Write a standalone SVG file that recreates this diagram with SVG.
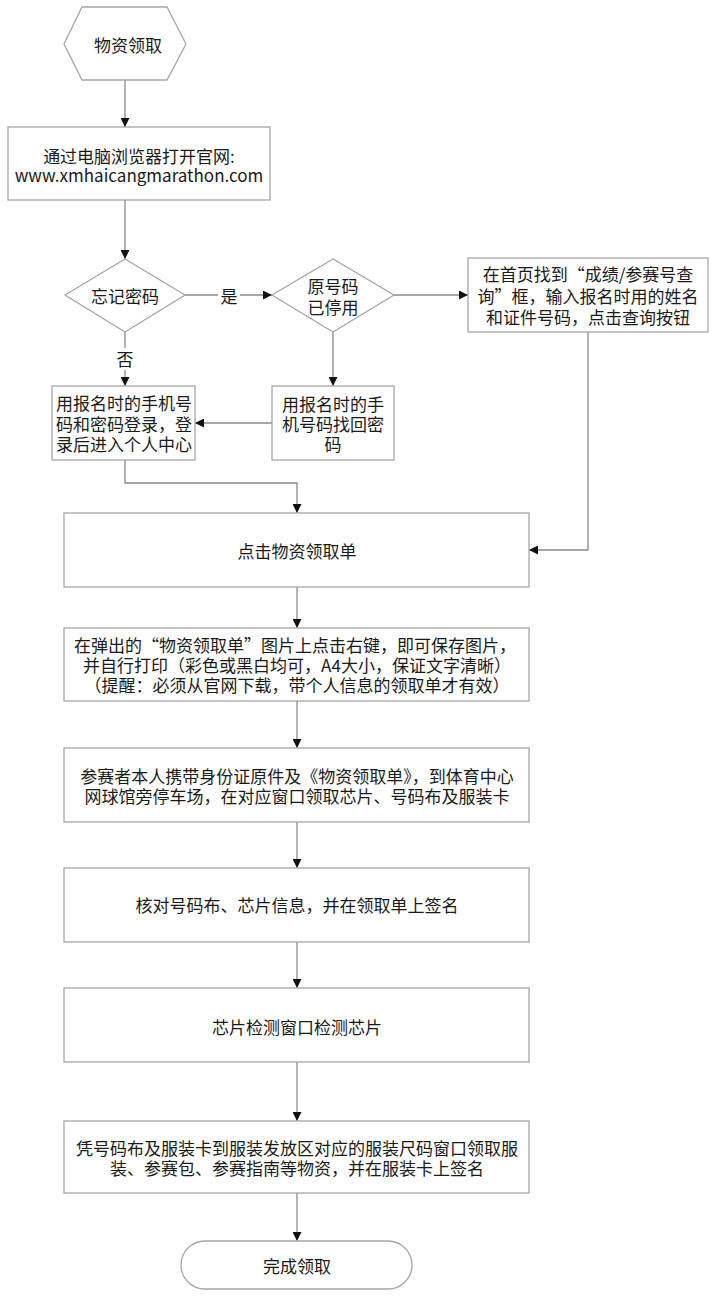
<svg xmlns="http://www.w3.org/2000/svg" width="720" height="1297" viewBox="0 0 720 1297">
<style>
.n{fill:#fff;stroke:#a6a6a6;stroke-width:1.3}
.t{font-family:"Noto Sans CJK SC","Microsoft YaHei",sans-serif;font-size:17px;fill:#1a1a1a;text-anchor:middle;dominant-baseline:central}
.c{fill:none;stroke:#8a8a8a;stroke-width:1.3;marker-end:url(#ah)}
</style>
<defs>
<marker id="ah" viewBox="0 0 10 10" refX="10" refY="5" markerWidth="9" markerHeight="9" markerUnits="userSpaceOnUse" orient="auto">
<path d="M0,0 L10,5 L0,10 z" fill="#111"/>
</marker>
</defs>
<rect width="720" height="1297" fill="#fff"/>
<g id="connectors">
<path class="c" d="M125,80 V127"/>
<path class="c" d="M125,200 V259"/>
<path class="c" d="M185,295 H272"/>
<path class="c" d="M394,295 H468"/>
<path class="c" d="M125,332 V386"/>
<path class="c" d="M333,332 V386"/>
<path class="c" d="M272,423 H195"/>
<path class="c" d="M125,460 V483 H297 V513"/>
<path class="c" d="M588,332 V550 H529"/>
<path class="c" d="M297,587 V628"/>
<path class="c" d="M297,701 V748"/>
<path class="c" d="M297,822 V868"/>
<path class="c" d="M297,942 V988"/>
<path class="c" d="M297,1062 V1121"/>
<path class="c" d="M297,1193 V1241"/>
<rect x="218" y="284" width="22" height="22" fill="#fff"/>
<text class="t" x="229" y="295">是</text>
<rect x="114" y="348" width="22" height="22" fill="#fff"/>
<text class="t" x="125" y="358">否</text>
</g>
<g id="start">
<polygon class="n" points="64,44 82,7 167,7 186,44 167,80 82,80"/>
<text class="t" x="128" y="44">物资领取</text>
</g>
<g id="open-site">
<rect class="n" x="8" y="127" width="262" height="73"/>
<text class="t" x="139" y="155">通过电脑浏览器打开官网:</text>
<text class="t" x="139" y="174">www.xmhaicangmarathon.com</text>
</g>
<g id="forgot">
<polygon class="n" points="65,295 125,259 185,295 125,332"/>
<text class="t" x="125" y="295">忘记密码</text>
</g>
<g id="disabled">
<polygon class="n" points="272,295 333,259 394,295 333,332"/>
<text class="t" x="333" y="285">原号码</text>
<text class="t" x="333" y="306">已停用</text>
</g>
<g id="query">
<rect class="n" x="468" y="258" width="240" height="74"/>
<text class="t" x="588" y="273">在首页找到“成绩/参赛号查</text>
<text class="t" x="588" y="295">询”框，输入报名时用的姓名</text>
<text class="t" x="588" y="316">和证件号码，点击查询按钮</text>
</g>
<g id="login">
<rect class="n" x="52" y="386" width="143" height="74"/>
<text class="t" x="124" y="402">用报名时的手机号</text>
<text class="t" x="124" y="423">码和密码登录，登</text>
<text class="t" x="124" y="443">录后进入个人中心</text>
</g>
<g id="recover">
<rect class="n" x="272" y="386" width="122" height="74"/>
<text class="t" x="333" y="403">用报名时的手</text>
<text class="t" x="333" y="423">机号码找回密</text>
<text class="t" x="333" y="443">码</text>
</g>
<g id="click-form">
<rect class="n" x="64" y="513" width="465" height="74"/>
<text class="t" x="297" y="550">点击物资领取单</text>
</g>
<g id="save-print">
<rect class="n" x="64" y="628" width="465" height="73"/>
<text class="t" x="295" y="644">在弹出的“物资领取单”图片上点击右键，即可保存图片，</text>
<text class="t" x="297" y="664">并自行打印（彩色或黑白均可，A4大小，保证文字清晰）</text>
<text class="t" x="297" y="684">（提醒：必须从官网下载，带个人信息的领取单才有效）</text>
</g>
<g id="collect-chip">
<rect class="n" x="64" y="748" width="465" height="74"/>
<text class="t" x="297" y="775">参赛者本人携带身份证原件及《物资领取单》，到体育中心</text>
<text class="t" x="297" y="795">网球馆旁停车场，在对应窗口领取芯片、号码布及服装卡</text>
</g>
<g id="verify">
<rect class="n" x="64" y="868" width="465" height="74"/>
<text class="t" x="297" y="904">核对号码布、芯片信息，并在领取单上签名</text>
</g>
<g id="chip-test">
<rect class="n" x="64" y="988" width="465" height="74"/>
<text class="t" x="297" y="1026">芯片检测窗口检测芯片</text>
</g>
<g id="clothing">
<rect class="n" x="64" y="1121" width="465" height="72"/>
<text class="t" x="297" y="1147">凭号码布及服装卡到服装发放区对应的服装尺码窗口领取服</text>
<text class="t" x="297" y="1167">装、参赛包、参赛指南等物资，并在服装卡上签名</text>
</g>
<g id="end">
<rect class="n" x="181" y="1241" width="231" height="48" rx="24" ry="24"/>
<text class="t" x="297" y="1265">完成领取</text>
</g>
</svg>
